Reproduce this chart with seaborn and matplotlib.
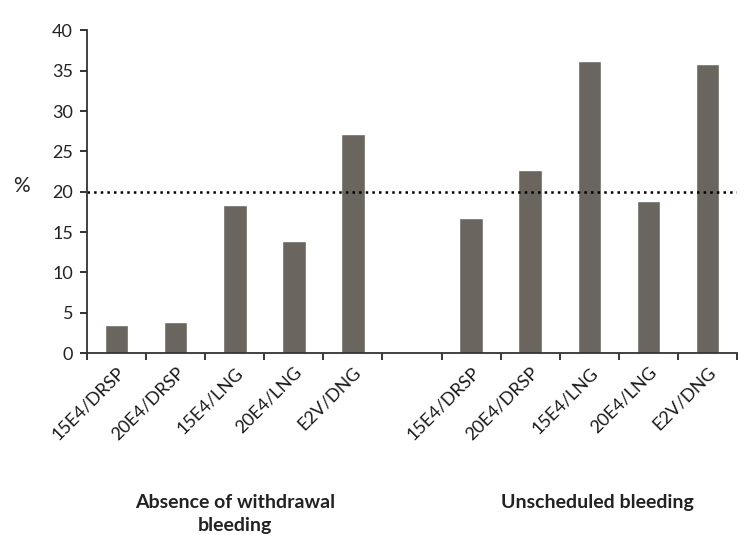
import pandas as pd
import numpy as np
import matplotlib
matplotlib.use('Agg')
import matplotlib.pyplot as plt
import seaborn as sns

# 数据
regimens = ['15E4/DRSP', '20E4/DRSP', '15E4/LNG', '20E4/LNG', 'E2V/DNG']
absence_vals = [3.5, 3.8, 18.4, 13.9, 27.2]
unscheduled_vals = [16.8, 22.7, 36.2, 18.8, 35.8]
group_names = ['Absence of withdrawal\nbleeding', 'Unscheduled bleeding']
threshold = 20

# 组装数据表（两组之间留一个空位）
keys = ['a_' + r for r in regimens] + ['gap'] + ['u_' + r for r in regimens]
values = absence_vals + [np.nan] + unscheduled_vals
df = pd.DataFrame({'key': keys, 'value': values})
tick_labels = regimens + [''] + regimens

sns.set_theme(style='ticks')
plt.rcParams['font.family'] = ['Lato', 'DejaVu Sans']

fig = plt.figure(figsize=(7.56, 5.35), dpi=100)
ax = fig.add_axes([0.115, 0.340, 0.860, 0.603])

sns.barplot(data=df, x='key', y='value', order=keys, color='#6b6560',
            saturation=1, width=0.4, ax=ax)
ax.axhline(threshold, color='black', linestyle=':', linewidth=1.8)

# 坐标轴
ax.set_xlim(-0.5, len(keys) - 0.5)
ax.set_ylim(0, 40)
ax.set_yticks(range(0, 41, 5))
ax.tick_params(axis='y', labelsize=13, length=5, width=1.3, colors='#222222', pad=5)
ax.set_xticks(np.arange(len(keys) + 1) - 0.5)
ax.set_xticklabels([])
ax.tick_params(axis='x', length=5, width=1.3)
ax.set_xticks(np.arange(len(keys)), minor=True)
ax.set_xticklabels(tick_labels, minor=True, rotation=45, ha='right',
                   rotation_mode='anchor', fontsize=13, color='#1a1a1a')
ax.tick_params(axis='x', which='minor', length=0, pad=8)
ax.set_xlabel('')
ax.set_ylabel('')
sns.despine(ax=ax)
for s in ['left', 'bottom']:
    ax.spines[s].set_linewidth(1.3)
    ax.spines[s].set_color('#333333')

# 纵轴单位和分组标题
fig.text(0.018, 1 - 186 / 535, '%', fontsize=15, ha='left', va='center', color='#222222')
fig.text(235 / 756, 1 - 494 / 535, group_names[0], fontsize=14, fontweight='bold',
         ha='center', va='top', linespacing=1.45, color='#222222')
fig.text(597 / 756, 1 - 494 / 535, group_names[1], fontsize=14, fontweight='bold',
         ha='center', va='top', color='#222222')

fig.savefig('out.png', dpi=100)
